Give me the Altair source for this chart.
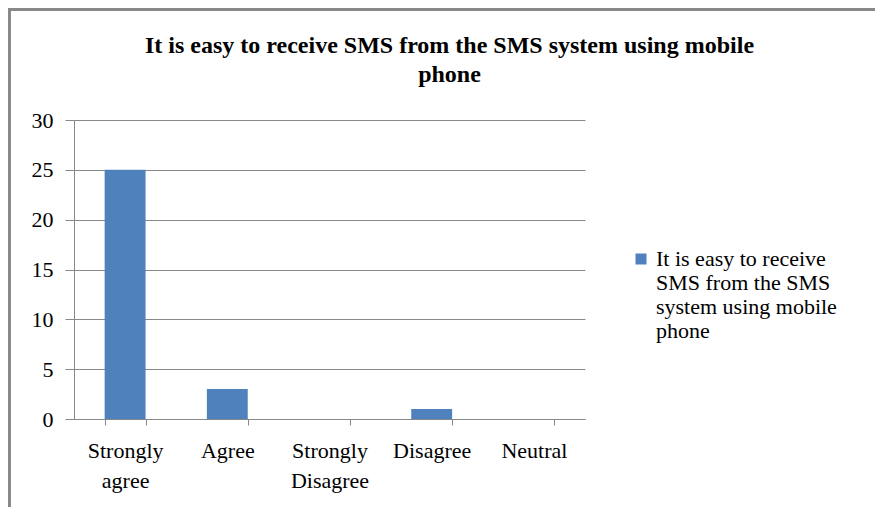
import altair as alt
import pandas as pd

categories = ["Strongly agree", "Agree", "Strongly Disagree", "Disagree", "Neutral"]
values = [25, 3, 0, 1, 0]
series_name = "It is easy to receive SMS from the SMS system using mobile phone"
title_lines = ["It is easy to receive SMS from the SMS system using mobile", "phone"]
y_ticks = [0, 5, 10, 15, 20, 25, 30]

df = pd.DataFrame({"category": categories, "value": values, "series": [series_name] * len(categories)})

FONT = "Liberation Serif"
GRAY = "#888888"

bars = alt.Chart(df).mark_bar(color="#4F81BD").encode(
    x=alt.X("category:N", sort=categories, title=None,
            scale=alt.Scale(paddingInner=0.6, paddingOuter=0.3),
            axis=alt.Axis(labelAngle=0, labelExpr="split(datum.label, ' ')", tickBand="extent",
                          tickSize=6, labelPadding=15, labelFontSize=22, labelLineHeight=30,
                          labelBaseline="top", grid=False)),
    y=alt.Y("value:Q", title=None, scale=alt.Scale(domain=[0, 30]),
            axis=alt.Axis(values=y_ticks, tickSize=9, labelPadding=12, labelFontSize=22,
                          grid=True, gridColor=GRAY)),
    color=alt.Color("series:N", title=None,
                    scale=alt.Scale(domain=[series_name], range=["#4F81BD"]),
                    legend=alt.Legend(orient="none", legendX=556, legendY=128, symbolType="square",
                                      symbolSize=121, symbolStrokeWidth=0, labelFontSize=22,
                                      labelOffset=4, labelLimit=400,
                                      labelExpr="['It is easy to receive', 'SMS from the SMS', 'system using mobile', 'phone']")),
)

frame_left = alt.Chart(df).mark_rule(color=GRAY, strokeWidth=3).encode(
    x=alt.value(-65), y=alt.value(-111), y2=alt.value(400))
frame_top = alt.Chart(df).mark_rule(color=GRAY, strokeWidth=3).encode(
    x=alt.value(-66), x2=alt.value(820), y=alt.value(-110.5))

chart = alt.layer(bars, frame_left, frame_top).properties(
    width=511, height=299,
    autosize=alt.AutoSizeParams(type="none"),
    padding={"left": 66, "top": 112, "right": 290, "bottom": 88},
    title=alt.TitleParams(text=title_lines, anchor="middle", frame="group", dx=120, offset=-79,
                          fontSize=24, font=FONT, fontWeight="bold", lineHeight=29, color="#000000"),
).configure_axis(
    labelFont=FONT, labelColor="#000000", domainColor=GRAY, tickColor=GRAY,
).configure_legend(
    labelFont=FONT, labelColor="#000000",
).configure_view(stroke=None)

chart.save("out.html", embed_options={"renderer": "svg", "actions": False})
